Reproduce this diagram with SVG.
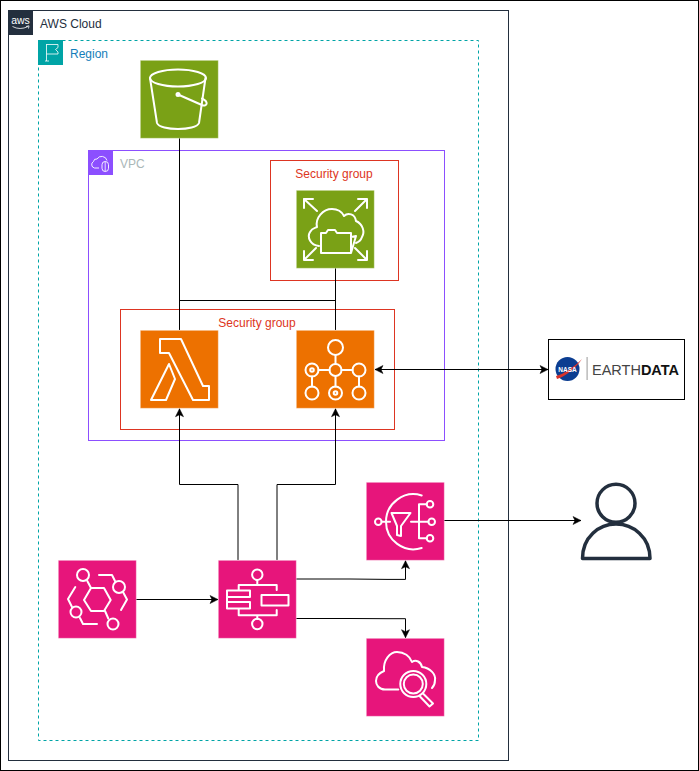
<svg xmlns="http://www.w3.org/2000/svg" width="699" height="771" viewBox="0 0 699 771">
<style>
text{font-family:"Liberation Sans",Arial,sans-serif;font-size:12px}
.bg{stroke:#fff;stroke-opacity:.4;stroke-width:1}
.ic{fill:none;stroke:#fff;stroke-width:2;stroke-linejoin:round;stroke-linecap:round}
.con{fill:none;stroke:#000;stroke-width:1}
.sg{fill:none;stroke:#DD3522;stroke-width:1}
.sgt{fill:#DD3522;text-anchor:middle}
</style>
<defs>
<marker id="ah" markerUnits="userSpaceOnUse" markerWidth="10" markerHeight="10" viewBox="-1 -5 10 10" refX="8" refY="0" orient="auto-start-reverse"><path d="M0 -4L8 0L0 4L2 0Z" fill="#000" stroke="#000" stroke-width=".5"/></marker>
</defs>
<rect width="699" height="771" fill="#fff"/>
<g id="frame"><rect x="0.5" y="0.5" width="698" height="770" fill="none" stroke="#000"/></g>
<g id="aws-cloud">
<rect x="8.5" y="10.5" width="500" height="750" fill="none" stroke="#232F3E"/>
<rect x="8" y="10" width="25" height="25" fill="#232F3E"/>
<text x="20.5" y="24" text-anchor="middle" fill="#fff" style="font-size:10.5px">aws</text>
<path d="M12.5 26.5Q20 30.500 28 26.500M26 26.500L29 25.800L28.500 28.500" fill="none" stroke="#fff" stroke-width=".8"/>
<text x="40" y="28" fill="#232F3E">AWS Cloud</text>
</g>
<g id="region">
<rect x="38.500" y="40.500" width="440" height="700" fill="none" stroke="#00A4A6" stroke-dasharray="3 3"/>
<rect x="38" y="40" width="25" height="25" fill="#00A4A6"/>
<path d="M46.500 44V61M45 61H49M46.500 44.500H58V47.500L55.500 49.500L58 52V54H46.500" fill="none" stroke="#fff" stroke-width=".8"/>
<text x="70" y="58" fill="#147EBA">Region</text>
</g>
<g id="vpc">
<rect x="88.500" y="150.500" width="356" height="290" fill="none" stroke="#8C4FFF"/>
<rect x="88" y="150" width="25" height="25" fill="#8C4FFF"/>
<path d="M99 168H94.500A3.500 3.500 0 0 1 93.500 161.500A3 3 0 0 1 97 159A5.500 5.500 0 0 1 107 160.500" fill="none" stroke="#fff" stroke-width=".9"/>
<rect x="102" y="161.500" width="6.500" height="10" rx="3.200" fill="none" stroke="#fff" stroke-width=".9"/>
<path d="M105.200 161.500V171.500" stroke="#fff" stroke-width=".8"/>
<text x="120" y="168" fill="#AAB7B8">VPC</text>
</g>
<g id="sg-efs"><rect class="sg" x="270.500" y="160.500" width="128" height="120"/><text class="sgt" x="334" y="178">Security group</text></g>
<g id="sg-compute"><rect class="sg" x="120.500" y="309.500" width="274" height="120"/><text class="sgt" x="257" y="327">Security group</text></g>
<g id="connectors">
<path class="con" d="M179.500 138V330"/>
<path class="con" d="M179.500 300.500H335.500"/>
<path class="con" d="M335.500 268V330"/>
<path class="con" d="M238 560V484.500H179.500V408.700" marker-end="url(#ah)"/>
<path class="con" d="M277 560V484.500H335.500V408.700" marker-end="url(#ah)"/>
<path class="con" d="M136 599.500H218" marker-end="url(#ah)"/>
<path class="con" d="M296 579H350L387 579.400H405.500V560.700" marker-end="url(#ah)"/>
<path class="con" d="M296 618.500H350L387 618.700H405.500V637.700" marker-end="url(#ah)"/>
<path class="con" d="M375 369.500H548" marker-start="url(#ah)" marker-end="url(#ah)"/>
<path class="con" d="M444 520.500H581" marker-end="url(#ah)"/>
</g>
<g id="s3" transform="translate(140 60)">
<rect class="bg" x=".3" y=".3" width="78" height="78" fill="#7AA116"/>
<g class="ic"><ellipse cx="38" cy="18" rx="28" ry="8.500"/><path d="M10 18L17 63C20 71 56 71 59 63L65.500 18"/><path d="M38 34.500L63 45.500C67 46 69 42 62 38.500"/><circle cx="38" cy="34.500" r="1.500"/></g>
</g>
<g id="efs" transform="translate(296 190)">
<rect class="bg" x=".3" y=".3" width="78" height="78" fill="#7AA116"/>
<g class="ic"><path d="M8 9L21 21M8 18V9H17M71 9L59 21M71 18V9H62M8 70L20 58M8 61V70H17M71 70L59 58M71 61V70H62"/>
<path d="M23 56C14 55 11 47 14 42C16 38 19 38 21 37C19 28 27 19 36 19C42 19 46 22 48 26C52 22 59 24 60 31C67 34 69 42 66 47C65 50 63 52 60 53"/>
<path d="M25 63V43H30L32 40H39L41 43H55V63ZM55 63L60 46L55 47"/></g>
</g>
<g id="lambda" transform="translate(140 330)">
<rect class="bg" x=".3" y=".3" width="78" height="78" fill="#ED7100"/>
<g class="ic"><path d="M20 9H41L63 56H69V70H53L29 23H20Z"/><path d="M29 34L35 49L26 70H11Z"/></g>
</g>
<g id="mwaa" transform="translate(296 330)">
<rect class="bg" x=".3" y=".3" width="78" height="78" fill="#ED7100"/>
<g class="ic"><circle cx="39.500" cy="17.500" r="7.500"/><circle cx="39.500" cy="40" r="6"/><circle cx="16" cy="40" r="6.500"/><circle cx="16" cy="40" r="1.800"/><circle cx="63" cy="40" r="6.500"/><circle cx="16" cy="63" r="6.500"/><circle cx="39.500" cy="63" r="6.500"/><circle cx="39.500" cy="63" r="1.800"/><circle cx="63" cy="63" r="6.500"/><path d="M39.500 25V34M39.500 46V56.500M22.500 40H33.500M45.500 40H56.500M16 46.500V56.500M63 46.500V56.500"/></g>
</g>
<g id="eventbridge" transform="translate(58 560)">
<rect class="bg" x=".3" y=".3" width="78" height="78" fill="#E7157B"/>
<g class="ic"><path d="M33 28H46L52.700 40L46 51H33L26 40Z"/><circle cx="25" cy="15" r="6"/><circle cx="61" cy="27" r="6"/><circle cx="18" cy="52" r="5.500"/><circle cx="55" cy="64" r="5.500"/><path d="M29.300 21L33 28M47 51L50.300 58.500M41 15H54L57 21M65 32L69 39.500L63 50M17.300 27L10 39L14 47M22 58L25 64H39"/></g>
</g>
<g id="step-functions" transform="translate(218 560)">
<rect class="bg" x=".3" y=".3" width="78" height="78" fill="#E7157B"/>
<g class="ic"><circle cx="39.300" cy="14.700" r="5.200"/><circle cx="39.300" cy="64" r="5.200"/><path d="M39.300 20V25M39.300 55.300V59M20.700 30V25H58.700V30M20.700 49V55.300H58.700V50"/><rect x="9" y="30.500" width="23" height="6.500"/><rect x="9" y="42" width="23" height="6.500"/><rect x="43.500" y="35" width="27" height="10.500"/><path d="M9 37V42"/></g>
</g>
<g id="sns" transform="translate(366 482)">
<rect class="bg" x=".3" y=".3" width="78" height="78" fill="#E7157B"/>
<g class="ic"><path d="M55.700 13.500A27.500 27.500 0 1 0 55.700 66"/><circle cx="12.300" cy="39.700" r="3.300"/><circle cx="64" cy="22.300" r="3.300"/><circle cx="65.700" cy="39.700" r="3.300"/><circle cx="64" cy="56.300" r="3.300"/><path d="M15.600 39.700H24M45 39.700H62.400M53 22.300V56.300M53 22.300H60.700M53 56.300H60.700"/><path d="M25.500 31H44.500L35 44V54L31 53V44Z"/></g>
</g>
<g id="cloudwatch" transform="translate(366 638)">
<rect class="bg" x=".3" y=".3" width="78" height="78" fill="#E7157B"/>
<g class="ic"><path d="M32.300 51.500H19C13 51.500 10 47 10 43C10 39 13 35 18 33C17 22 24 14 31 14C38 14 44 18 46 24C50 21 55 24 56 29C64 30 70 36 69 42C69 45 68 48 66 50"/><circle cx="47.300" cy="46" r="13"/><circle cx="47.300" cy="46" r="9.500"/><path d="M57 55.500L67 65.500L63.500 68.500L54 58.500"/></g>
</g>
<g id="earthdata">
<rect x="548.500" y="339.500" width="136" height="60" fill="#fff" stroke="#000"/>
<circle cx="567.500" cy="369" r="12" fill="#0B3D91"/>
<path d="M556 376C564 374 574 367 582 359C576 368 566 376 557 379Z" fill="#D8322A"/>
<text x="567.500" y="371.500" text-anchor="middle" fill="#fff" style="font-size:6.500px;font-weight:bold">NASA</text>
<rect x="586.500" y="357" width="1.200" height="23" fill="#aaa"/>
<text x="592" y="374.500" fill="#444" style="font-size:15px" textLength="87" lengthAdjust="spacingAndGlyphs">EARTH<tspan font-weight="bold" fill="#111">DATA</tspan></text>
</g>
<g id="user">
<circle cx="616" cy="503.300" r="19" fill="none" stroke="#232F3E" stroke-width="3.500"/>
<path d="M582.500 558.500C582.500 537 599 524 616 524C633 524 650 537 650 558.500Z" fill="none" stroke="#232F3E" stroke-width="3.500" stroke-linejoin="round"/>
</g>
</svg>
